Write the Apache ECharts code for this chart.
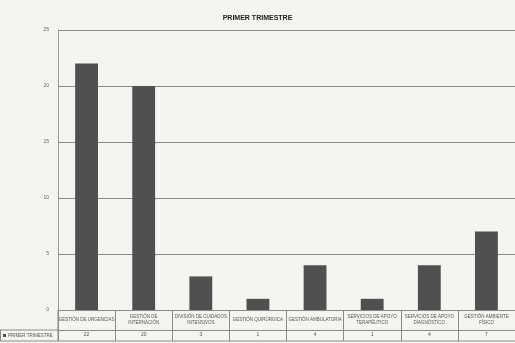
<!DOCTYPE html>
<html><head><meta charset="utf-8">
<script src="https://cdn.jsdelivr.net/npm/echarts@6/dist/echarts.min.js"></script>
<style>html,body{margin:0;padding:0;background:#f4f4f2}#c{width:515px;height:343px}</style>
</head><body><div id="c"></div>
<script>
const titleText = 'PRIMER TRIMESTRE';
const seriesName = 'PRIMER TRIMESTRE';
const categories = [
  'GESTIÓN DE URGENCIAS',
  'GESTIÓN DE\nINTERNACIÓN',
  'DIVISIÓN DE CUIDADOS\nINTENSIVOS',
  'GESTIÓN QUIRÚRGICA',
  'GESTIÓN AMBULATORIA',
  'SERVICIOS DE APOYO\nTERAPÉUTICO',
  'SERVICIOS DE APOYO\nDIAGNÓSTICO',
  'GESTIÓN AMBIENTE\nFÍSICO'
];
const values = [22, 20, 3, 1, 4, 1, 4, 7];
const yTicks = [0, 5, 10, 15, 20, 25];

const font = "'Liberation Sans Narrow', 'Liberation Sans', sans-serif";
const chart = echarts.init(document.getElementById('c'), null, {renderer: 'canvas'});
chart.setOption({
  backgroundColor: '#f4f4f2',
  animation: false,
  title: {
    text: titleText, left: 'center', top: 10,
    textStyle: {fontSize: 7, fontWeight: 'bold', color: '#222', fontFamily: font}
  },
  grid: {left: 58, right: -2, top: 30, bottom: 33, containLabel: false},
  xAxis: [{
    type: 'category', data: categories, position: 'bottom',
    axisLine: {show: true, lineStyle: {color: '#8a8a8a', width: 1}},
    axisTick: {show: true, interval: 0, length: 31, lineStyle: {color: '#8a8a8a'}},
    axisLabel: {interval: 0, fontSize: 4.5, lineHeight: 6, color: '#555', fontFamily: font,
      verticalAlign: 'middle', margin: 10}
  }, {
    type: 'category', data: values.map(String), position: 'bottom', offset: 20,
    axisLine: {show: true, lineStyle: {color: '#8a8a8a', width: 1}},
    axisTick: {show: false},
    axisLabel: {interval: 0, fontSize: 5, color: '#555', fontFamily: font,
      verticalAlign: 'middle', margin: 5}
  }],
  yAxis: {
    type: 'value', min: yTicks[0], max: yTicks[yTicks.length - 1], interval: 5,
    axisLine: {show: true, lineStyle: {color: '#9a9a9a'}},
    axisTick: {show: false},
    axisLabel: {fontSize: 5, color: '#666', margin: 9, fontFamily: font},
    splitLine: {show: true, lineStyle: {color: '#8a8a8a', width: 1}}
  },
  series: [{
    name: seriesName, type: 'bar', data: values, barWidth: '40%', xAxisIndex: 0,
    itemStyle: {color: '#505050'}
  }],
  graphic: [
    {type: 'line', shape: {x1: 0, y1: 330, x2: 58, y2: 330}, style: {stroke: '#8a8a8a', lineWidth: 1}},
    {type: 'line', shape: {x1: 0, y1: 341, x2: 515, y2: 341}, style: {stroke: '#8a8a8a', lineWidth: 1}},
    {type: 'line', shape: {x1: 0.5, y1: 330, x2: 0.5, y2: 341}, style: {stroke: '#8a8a8a', lineWidth: 1}},
    {type: 'line', shape: {x1: 58, y1: 310, x2: 58, y2: 341}, style: {stroke: '#8a8a8a', lineWidth: 1}},
    {type: 'rect', shape: {x: 3, y: 334, width: 3, height: 3}, style: {fill: '#505050'}},
    {type: 'text', x: 8, y: 335.5, style: {text: seriesName, fontSize: 4.5, fill: '#555', fontFamily: font, verticalAlign: 'middle'}}
  ]
});
</script></body></html>
